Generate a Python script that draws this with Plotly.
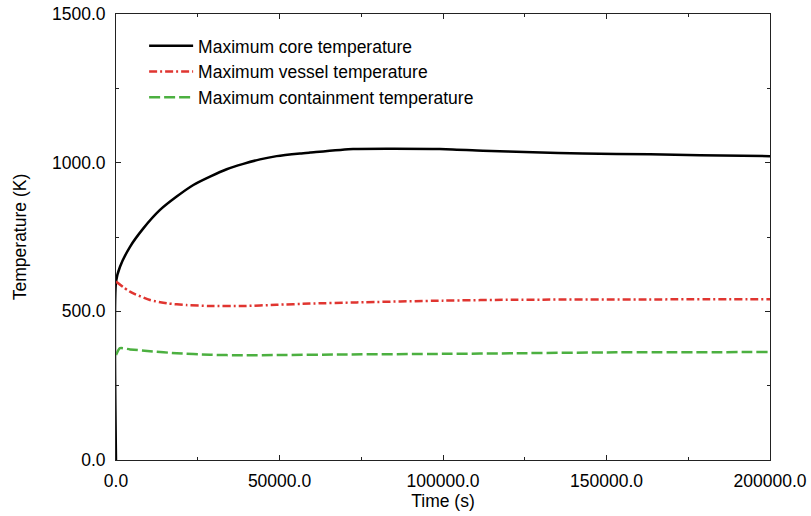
import plotly.graph_objects as go

# Data
core_t = [0, 0, 1223, 4281, 8360, 13456, 18550, 23650, 28746, 33850, 38940, 44037, 49140,
          56270, 59330, 72500, 85000, 99000, 112200, 127500, 142800, 163300, 178600, 200000]
core_T = [0, 600, 650, 717, 779, 841, 886, 925, 953, 978, 996, 1011, 1022,
          1031, 1034, 1046, 1047, 1046, 1040, 1035, 1031, 1028, 1025, 1022]

vessel_t = [0, 4281, 10400, 15500, 21600, 28750, 38900, 49100, 59300, 73600, 100000, 122500, 160000, 200000]
vessel_T = [600, 566, 538, 527, 521, 518, 518, 522, 526, 530, 536, 539, 540, 541]

cont_t = [0, 1223, 4281, 10400, 18550, 28750, 38900, 49100, 70000, 100000, 122500, 153000, 200000]
cont_T = [353, 376, 372, 366, 359, 354, 352, 353, 355, 357, 359, 362, 363]

names = ["Maximum core temperature", "Maximum vessel temperature", "Maximum containment temperature"]

FONT = "Liberation Sans, Arial, sans-serif"
FS = 17.5

fig = go.Figure()
fig.add_trace(go.Scatter(x=core_t, y=core_T, mode="lines", name=names[0],
                         line=dict(color="black", width=2.5, shape="spline", smoothing=0.6)))
fig.add_trace(go.Scatter(x=vessel_t, y=vessel_T, mode="lines", name=names[1],
                         line=dict(color="#e03530", width=2.5, dash="8px,3px,2px,3px",
                                   shape="spline", smoothing=0.6)))
fig.add_trace(go.Scatter(x=cont_t, y=cont_T, mode="lines", name=names[2],
                         line=dict(color="#4cb040", width=2.5, dash="11px,4px",
                                   shape="spline", smoothing=0.6)))

axis_common = dict(showgrid=False, zeroline=False, showline=True, linecolor="#222",
                   linewidth=1, mirror="allticks", ticks="inside", ticklen=5,
                   tickcolor="#222", tickfont=dict(family=FONT, size=FS, color="black"),
                   tickformat=".1f", automargin=False, ticklabeloverflow="allow")

fig.update_xaxes(range=[0, 200000], dtick=50000, ticklabelstandoff=5,
                 title=dict(text="Time (s)", standoff=4,
                            font=dict(family=FONT, size=FS, color="black")),
                 minor=dict(dtick=25000, ticks="inside", ticklen=3, tickcolor="#222"),
                 **axis_common)
fig.update_yaxes(range=[0, 1500], dtick=500, ticklabelstandoff=6,
                 title=dict(text="Temperature (K)", standoff=20,
                            font=dict(family=FONT, size=FS, color="black")),
                 minor=dict(dtick=250, ticks="inside", ticklen=3, tickcolor="#222"),
                 **axis_common)

fig.update_layout(
    width=811, height=516,
    margin=dict(l=116, r=41, t=14, b=56),
    paper_bgcolor="white", plot_bgcolor="white",
    font=dict(family=FONT, size=FS, color="black"),
    legend=dict(x=0.043, y=0.969, xanchor="left", yanchor="top",
                bgcolor="rgba(0,0,0,0)", borderwidth=0, itemwidth=44,
                font=dict(family=FONT, size=FS)),
    showlegend=True,
)

# remove the default page margin so the figure fills the window exactly
fig.write_html("out.html", config={"displayModeBar": False},
               post_script="document.body.style.margin='0';")
